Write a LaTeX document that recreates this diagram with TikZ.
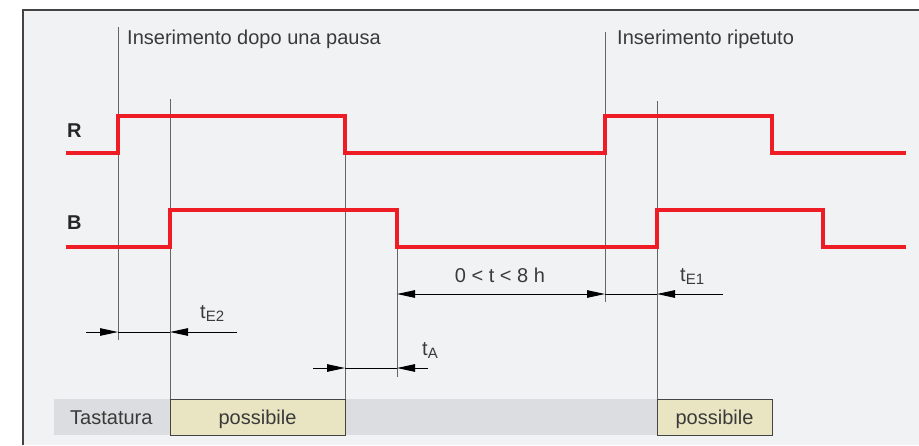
\documentclass[tikz,border=0pt]{standalone}
\usepackage{fontspec}
\setmainfont{Liberation Sans}
\usetikzlibrary{arrows.meta}
\definecolor{bgc}{HTML}{F1F2F4}
\definecolor{framec}{HTML}{444444}
\definecolor{sigred}{HTML}{EE1C25}
\definecolor{guidec}{HTML}{666666}
\definecolor{txtc}{HTML}{3A3A3A}
\definecolor{bandc}{HTML}{DCDDE0}
\definecolor{boxc}{HTML}{E9E4C1}
\begin{document}
\begin{tikzpicture}[x=1pt,y=-1pt,
  signal/.style={draw=sigred,line width=4pt,line join=miter},
  guide/.style={draw=guidec,line width=1pt},
  dimline/.style={draw=black,line width=1pt},
  dimarrow/.style={draw=black,line width=1pt,-{Triangle[length=18pt,width=7.5pt]}},
  lbl/.style={inner sep=0pt,text=txtc,font=\fontsize{20}{24}\selectfont},
  sig/.style={inner sep=0pt,text=black!85,font=\fontsize{20}{24}\selectfont\bfseries},
  okbox/.style={draw=framec,line width=1pt,fill=boxc}]
\useasboundingbox (0,0) rectangle (919,445);
\fill[white] (0,0) rectangle (919,445);
\fill[bgc] (23,10) rectangle (919,445);
\draw[framec,line width=1.2pt] (23,445) -- (23,10) -- (919,10);

% time coordinates
\coordinate (s0) at (66,0);
\coordinate (ta) at (118,0);
\coordinate (tb) at (170,0);
\coordinate (tc) at (345,0);
\coordinate (td) at (397,0);
\coordinate (te) at (605,0);
\coordinate (tf) at (657,0);
\coordinate (tg) at (772,0);
\coordinate (th) at (823,0);
\coordinate (s1) at (906,0);

% tastatura band
\fill[bandc] (54,399) rectangle (657,435);
\node[lbl,anchor=base west] (tast) at (70,424) {Tastatura};

% guide lines
\draw[guide] (ta |- 0,27) -- (ta |- 0,340);
\draw[guide] (tb |- 0,99) -- (tb |- 0,399);
\draw[guide] (tc |- 0,153) -- (tc |- 0,399);
\draw[guide] (td |- 0,247) -- (td |- 0,377);
\draw[guide] (te |- 0,32) -- (te |- 0,302);
\draw[guide] (tf |- 0,101) -- (tf |- 0,399);

% boxes
\draw[okbox] (tb |- 0,399) rectangle (tc |- 0,435);
\node[lbl,anchor=base] (pos1) at (257.5,424) {possibile};
\draw[okbox] (tf |- 0,399) rectangle (tg |- 0,435);
\node[lbl,anchor=base] (pos2) at (714.5,424) {possibile};

% signals
\draw[signal] (s0 |- 0,153) -- (ta |- 0,153) -- (ta |- 0,116) -- (tc |- 0,116) -- (tc |- 0,153)
  -- (te |- 0,153) -- (te |- 0,116) -- (tg |- 0,116) -- (tg |- 0,153) -- (s1 |- 0,153);
\draw[signal] (s0 |- 0,247) -- (tb |- 0,247) -- (tb |- 0,210) -- (td |- 0,210) -- (td |- 0,247)
  -- (tf |- 0,247) -- (tf |- 0,210) -- (th |- 0,210) -- (th |- 0,247) -- (s1 |- 0,247);
\node[sig,anchor=base west] (R) at (67,137) {R};
\node[sig,anchor=base west] (B) at (67,229) {B};

% top labels
\node[lbl,anchor=base west] (ins1) at (127,44) {Inserimento dopo una pausa};
\node[lbl,anchor=base west] (ins2) at (617,44) {Inserimento ripetuto};

% dimension tE2
\coordinate (e2l) at (86,332);
\coordinate (e2r) at (237,332);
\draw[dimarrow] (e2l) -- (ta |- e2l);
\draw[dimline] (ta |- e2l) -- (tb |- e2l);
\draw[dimarrow] (e2r) -- (tb |- e2r);
\node[lbl,anchor=base west] (lE2) at (200,318) {t\raisebox{-0.35ex}{\fontsize{15}{15}\selectfont E2}};

% dimension tA
\coordinate (al) at (313,368);
\coordinate (ar) at (428,368);
\draw[dimarrow] (al) -- (tc |- al);
\draw[dimline] (tc |- al) -- (td |- al);
\draw[dimarrow] (ar) -- (td |- ar);
\node[lbl,anchor=base west] (lA) at (422,355) {t\raisebox{-0.35ex}{\fontsize{15}{15}\selectfont A}};

% dimension 0<t<8h and tE1
\coordinate (e1r) at (723,294);
\draw[dimline,{Triangle[length=18pt,width=7.5pt]}-{Triangle[length=18pt,width=7.5pt]}] (td |- e1r) -- (te |- e1r);
\draw[dimline] (te |- e1r) -- (tf |- e1r);
\draw[dimarrow] (e1r) -- (tf |- e1r);
\node[lbl,anchor=base] (lt) at (500,282) {0 < t < 8 h};
\node[lbl,anchor=base west] (lE1) at (680,281) {t\raisebox{-0.35ex}{\fontsize{15}{15}\selectfont E1}};
\end{tikzpicture}
\end{document}
